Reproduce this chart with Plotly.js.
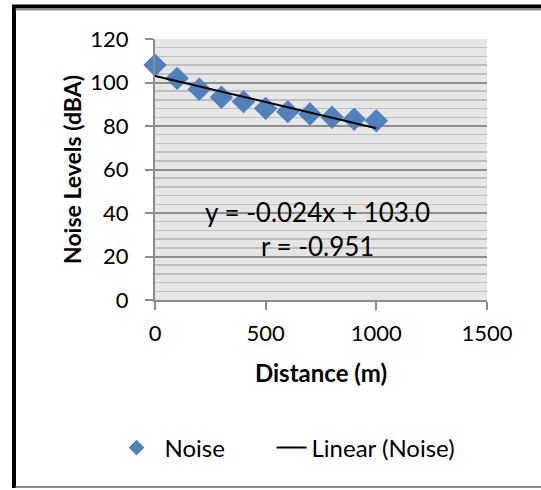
<!DOCTYPE html>
<html>
<head>
<meta charset="utf-8">
<script src="https://cdn.plot.ly/plotly-3.0.1.min.js"></script>
<style>
html,body{margin:0;padding:0;background:#fff;}
#chart{width:541px;height:490px;}
</style>
</head>
<body>
<div id="chart"></div>
<script>
// Data
const distance = [0, 100, 200, 300, 400, 500, 600, 700, 800, 900, 1000];
const noise = [108.0, 101.9, 96.9, 93.2, 91.2, 88.1, 86.6, 85.5, 84.0, 83.1, 82.4];
// Linear trendline coefficients shown on the chart
const slope = -0.024;
const intercept = 103.0;
const rValue = -0.951;
const xTickVals = [0, 500, 1000, 1500];
const yTickVals = [0, 20, 40, 60, 80, 100, 120];

const trendX = [Math.min(...distance), Math.max(...distance)];
const trendY = trendX.map(x => slope * x + intercept);

const FONT = 'Lato, "Open Sans", sans-serif';
const traces = [
  {
    x: distance, y: noise, type: 'scatter', mode: 'markers', name: 'Noise',
    marker: {symbol: 'diamond', size: 18, color: '#4F81BD'},
    cliponaxis: false, legend: 'legend'
  },
  {
    x: trendX, y: trendY, type: 'scatter', mode: 'lines', name: 'Linear (Noise)',
    line: {color: '#000000', width: 2},
    cliponaxis: false, legend: 'legend2'
  }
];

const legendFont = {family: FONT, size: 24, color: '#000'};
const layout = {
  width: 541, height: 490,
  margin: {l: 155, r: 54, t: 39, b: 190},
  paper_bgcolor: '#ffffff',
  plot_bgcolor: '#E6E6E6',
  font: {family: FONT, size: 22, color: '#000'},
  showlegend: true,
  legend: {
    orientation: 'h', x: -0.14, xanchor: 'left', y: -0.567, yanchor: 'middle',
    font: legendFont, itemsizing: 'constant', itemwidth: 46,
    bgcolor: 'rgba(0,0,0,0)'
  },
  legend2: {
    orientation: 'h', x: 0.351, xanchor: 'left', y: -0.567, yanchor: 'middle',
    font: legendFont, itemwidth: 30,
    bgcolor: 'rgba(0,0,0,0)'
  },
  xaxis: {
    range: [0, 1500], tickvals: xTickVals, ticks: 'outside', ticklen: 8, tickwidth: 2,
    tickcolor: '#8C8C8C', showline: true, linecolor: '#8C8C8C', linewidth: 2,
    showgrid: false, zeroline: false, ticklabelstandoff: 5,
    tickfont: {family: FONT, size: 22},
    title: {text: '<b>Distance (m)</b>', font: {family: FONT, size: 24}, standoff: 20}
  },
  yaxis: {
    range: [0, 120], tickvals: yTickVals, ticks: 'outside', ticklen: 8, tickwidth: 2,
    tickcolor: '#8C8C8C', showline: true, linecolor: '#8C8C8C', linewidth: 2,
    showgrid: true, gridcolor: '#8C8C8C', gridwidth: 2, zeroline: false,
    ticklabelstandoff: 12,
    tickfont: {family: FONT, size: 22},
    minor: {dtick: 4, showgrid: true, gridcolor: '#BFBFBF', gridwidth: 1.5, ticks: ''},
    title: {text: '<b>Noise Levels (dBA)</b>', font: {family: FONT, size: 23}, standoff: 2}
  },
  annotations: [
    {xref: 'paper', yref: 'paper', x: 0.488, y: 0.268, showarrow: false,
     text: 'y = ' + slope.toFixed(3) + 'x + ' + intercept.toFixed(1),
     font: {family: FONT, size: 26, color: '#000'}},
    {xref: 'paper', yref: 'paper', x: 0.49, y: 0.138, showarrow: false,
     text: 'r = ' + rValue.toFixed(3),
     font: {family: FONT, size: 26, color: '#000'}}
  ],
  shapes: [
    {type: 'line', xref: 'paper', yref: 'paper', x0: -0.4247, x1: -0.4247, y0: 1.13, y1: -0.72,
     line: {color: '#000', width: 4}},
    {type: 'line', xref: 'paper', yref: 'paper', x0: -0.43, x1: 1.2, y0: 1.1245, y1: 1.1245,
     line: {color: '#000', width: 4}},
    {type: 'line', xref: 'paper', yref: 'paper', x0: -0.42, x1: 1.2, y0: 1.113, y1: 1.113,
     line: {color: '#8C8C8C', width: 2}},
    {type: 'line', xref: 'paper', yref: 'paper', x0: -0.42, x1: 1.2, y0: -0.7165, y1: -0.7165,
     line: {color: '#8C8C8C', width: 2}}
  ]
};

Plotly.newPlot('chart', traces, layout, {displayModeBar: false, staticPlot: true});
</script>
</body>
</html>
